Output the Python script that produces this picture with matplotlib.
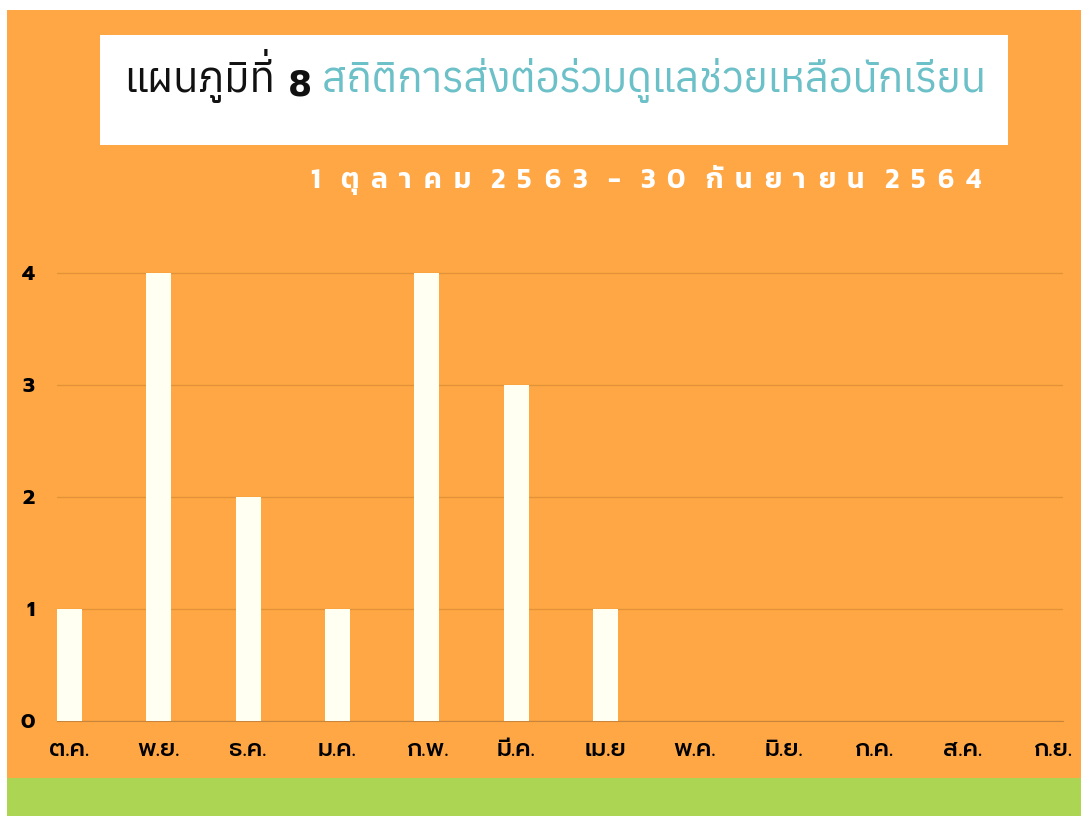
import matplotlib
matplotlib.use('Agg')
import matplotlib.pyplot as plt
from matplotlib.patches import Rectangle
from matplotlib.text import Annotation

months = ['ต.ค.', 'พ.ย.', 'ธ.ค.', 'ม.ค.', 'ก.พ.', 'มี.ค.', 'เม.ย',
          'พ.ค.', 'มิ.ย.', 'ก.ค.', 'ส.ค.', 'ก.ย.']
counts = [1, 4, 2, 1, 4, 3, 1, 0, 0, 0, 0, 0]
yticks = [0, 1, 2, 3, 4]

# "แผนภูมิที่" is drawn without its tone mark, which is overlaid by hand
# (no Thai shaping in matplotlib, so the mark would hit the upper vowel)
title_a = 'แผนภูมิที'
title_mark = '่'
title_b = '8'
title_c = ' สถิติการส่งต่อร่วมดูแลช่วยเหลือนักเรียน'
# subtitle split in clusters so it can be letter-spaced
subtitle = ['1', ' ', 'ตุ', 'ล', 'า', 'ค', 'ม', ' ', '2', '5', '6', '3', ' ', '-', ' ',
            '3', '0', ' ', 'กั', 'น', 'ย', 'า', 'ย', 'น', ' ', '2', '5', '6', '4']

title_font = ['Anuphan', 'DejaVu Sans']
tick_font = ['Prompt', 'DejaVu Sans']
plt.rcParams['font.family'] = title_font

orange = '#FFA744'
green = '#ABD553'
W, H = 1081, 816

fig = plt.figure(figsize=(W / 100, H / 100), dpi=100, facecolor='white')
fig.patches.append(Rectangle((7 / W, 38 / H), 1, 768 / H, transform=fig.transFigure,
                             facecolor=orange, edgecolor='none', zorder=-2))
fig.patches.append(Rectangle((7 / W, 0), 1, 38 / H, transform=fig.transFigure,
                             facecolor=green, edgecolor='none', zorder=-2))
fig.patches.append(Rectangle((100 / W, 1 - 145 / H), 908 / W, 110 / H,
                             transform=fig.transFigure, facecolor='white',
                             edgecolor='none', zorder=-1))

# title in pieces, chained one after another
fs = 30
t1 = fig.text(124 / W, 1 - 92 / H, title_a, fontsize=fs, color='#111111', va='baseline')
fig.add_artist(Annotation(title_mark, xy=(1, 1), xycoords=t1, xytext=(-3, -23),
                          textcoords='offset points', ha='right', va='bottom',
                          fontsize=fs, color='#111111'))
t2 = fig.add_artist(Annotation(title_b, xy=(1, 0), xycoords=t1, xytext=(9, 0),
                               textcoords='offset points', va='bottom',
                               fontsize=fs - 5, fontweight='bold', color='#111111',
                               family='DejaVu Sans'))
t3 = fig.add_artist(Annotation(title_c, xy=(1, 0), xycoords=t2, va='bottom',
                               fontsize=fs, color='#6CC0C8'))

# letter-spaced subtitle
renderer = fig.canvas.get_renderer()
xpos = 310
track = 12.1
space = 8
for ch in subtitle:
    if ch == ' ':
        xpos += space
        continue
    t = fig.text(xpos / W, 1 - 188 / H, ch, fontsize=20, color='white',
                 fontweight='semibold', va='baseline', family=['Kanit', 'DejaVu Sans'])
    xpos += t.get_window_extent(renderer).width + track

ax = fig.add_axes([57 / W, 1 - 721 / H, 1006 / W, 4.3 * 112 / H])
ax.set_facecolor('none')
x = range(len(months))
ax.bar(x, counts, width=0.28, color='#FFFFF2', zorder=3)
ax.set_xlim(-0.14, 11.12)
ax.set_ylim(0, 4.3)
ax.set_yticks(yticks)
ax.set_xticks(list(x))
ax.set_xticklabels(months, family=tick_font, fontsize=17, fontweight='medium')
ax.set_yticklabels([str(v) for v in yticks], family=tick_font, fontsize=15,
                   fontweight='bold')
ax.grid(axis='y', color='#E29339', linewidth=1)
for s in ['top', 'right', 'left']:
    ax.spines[s].set_visible(False)
ax.spines['bottom'].set_color('#C8843C')
ax.tick_params(axis='both', length=0)
ax.tick_params(axis='y', pad=16)
ax.tick_params(axis='x', pad=12)

fig.savefig('out.png', dpi=100, facecolor='white')
